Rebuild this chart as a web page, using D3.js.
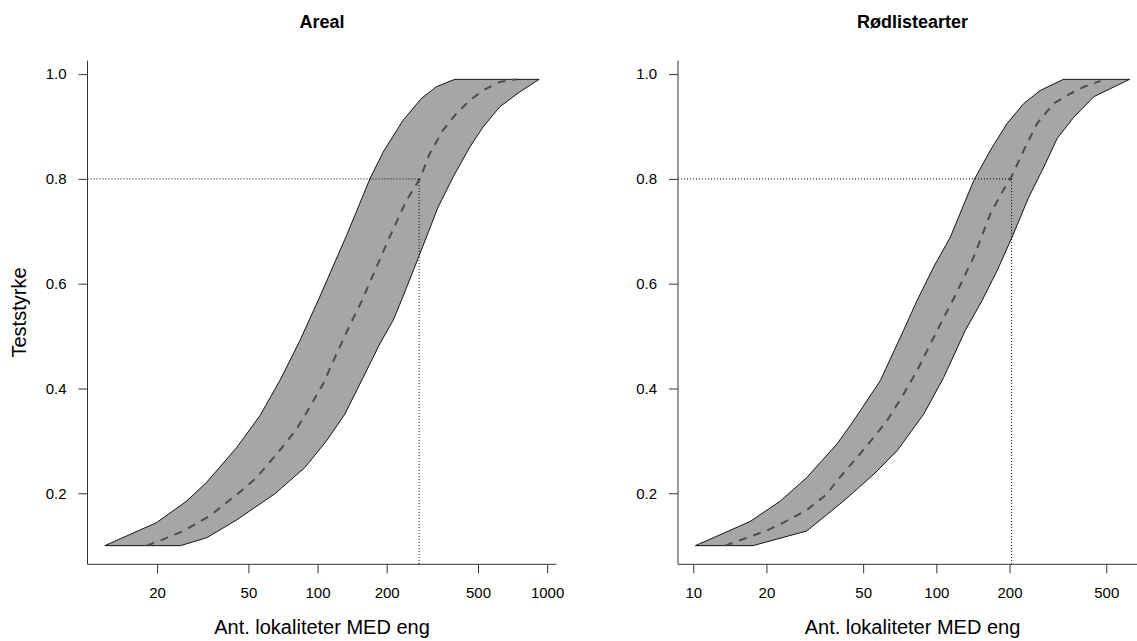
<!DOCTYPE html>
<html>
<head>
<meta charset="utf-8">
<script src="https://cdn.jsdelivr.net/npm/d3@7"></script>
<style>
  html, body { margin: 0; padding: 0; background: #fff; }
  svg { display: block; }
  text { font-family: "Liberation Sans", Arial, sans-serif; fill: #000; }
</style>
</head>
<body>
<svg id="chart" width="1137" height="641"></svg>
<script>
// ---- data ----
const panelTitles = ["Areal", "Rødlistearter"];
const xAxisTitle = "Ant. lokaliteter MED eng";
const yAxisTitle = "Teststyrke";
const yTicks = [0.2, 0.4, 0.6, 0.8, 1.0];
const xTicksAreal = [20, 50, 100, 200, 500, 1000];
const xTicksRodliste = [10, 20, 50, 100, 200, 500];
const targetPower = 0.8;

// Areal
const arealUpperN = [11.85, 19.9, 26.9, 32.9, 44.4, 56.1, 68.5, 83.7, 100.6, 133.8, 169, 193, 236, 284, 330, 396, 923];
const arealUpperP = [0.10, 0.144, 0.185, 0.221, 0.287, 0.348, 0.415, 0.491, 0.568, 0.692, 0.80, 0.851, 0.912, 0.954, 0.976, 0.99, 0.99];
const arealLowerN = [11.85, 25.3, 32.9, 44.4, 65.2, 88.0, 109.4, 131.5, 158, 186.7, 213.4, 232, 274, 335, 390, 461, 526, 622, 760, 923];
const arealLowerP = [0.10, 0.10, 0.115, 0.149, 0.199, 0.249, 0.300, 0.351, 0.421, 0.485, 0.530, 0.568, 0.648, 0.746, 0.804, 0.861, 0.899, 0.9375, 0.966, 0.99];
const arealMidN = [18.0, 21.3, 26.0, 34.0, 46.7, 54.2, 67.4, 81.0, 89.6, 105.8, 121, 138, 155.4, 203, 244, 279, 308, 352, 403, 461, 526, 622, 736];
const arealMidP = [0.10, 0.112, 0.128, 0.157, 0.205, 0.230, 0.278, 0.3226, 0.354, 0.409, 0.466, 0.52, 0.566, 0.6826, 0.759, 0.80, 0.848, 0.893, 0.925, 0.950, 0.969, 0.985, 0.99];
const arealTargetN = 277;

// Rødlistearter
const rodUpperN = [10.2, 17.1, 22.8, 29.3, 39.0, 45.6, 58.8, 73.3, 83.3, 97.5, 114.2, 142.5, 167, 195.6, 229, 268, 333, 624];
const rodUpperP = [0.10, 0.146, 0.185, 0.230, 0.294, 0.338, 0.415, 0.511, 0.568, 0.632, 0.689, 0.797, 0.855, 0.906, 0.944, 0.969, 0.99, 0.99];
const rodLowerN = [10.2, 17.6, 29.3, 41.5, 55.2, 68.9, 88.7, 107.2, 131.6, 154.3, 177.9, 205, 240, 277, 314, 368, 445, 624];
const rodLowerP = [0.10, 0.10, 0.128, 0.185, 0.236, 0.281, 0.351, 0.421, 0.511, 0.568, 0.625, 0.689, 0.765, 0.823, 0.877, 0.918, 0.957, 0.99];
const rodMidN = [13.5, 16.6, 20.1, 23.5, 29.3, 35.4, 39.0, 47.1, 55.2, 62.6, 73.3, 83.3, 94.5, 107.2, 119.8, 142.5, 167, 189.4, 201.8, 229, 260, 304, 357, 405, 474];
const rodMidP = [0.10, 0.115, 0.129, 0.144, 0.168, 0.198, 0.224, 0.268, 0.3065, 0.338, 0.389, 0.434, 0.485, 0.535, 0.578, 0.651, 0.734, 0.78, 0.80, 0.855, 0.906, 0.944, 0.963, 0.976, 0.987];
const rodTargetN = 204;

// ---- layout ----
const svg = d3.select("#chart");
const plotTop = 60.7, plotBottom = 564.3, plotWidth = 469;
const panelX0 = [87.5, 678];
const axisColor = "#333";

const zip = (a, b) => a.map((v, i) => [v, b[i]]);

const panels = [
  { title: panelTitles[0], upper: zip(arealUpperN, arealUpperP), lower: zip(arealLowerN, arealLowerP),
    mid: zip(arealMidN, arealMidP), ticks: xTicksAreal, target: arealTargetN, showY: true },
  { title: panelTitles[1], upper: zip(rodUpperN, rodUpperP), lower: zip(rodLowerN, rodLowerP),
    mid: zip(rodMidN, rodMidP), ticks: xTicksRodliste, target: rodTargetN, showY: false }
];

// y range as in R: data range [0.1, 0.99] extended by 4%
const yMin = 0.10, yMax = 0.99, yPad = 0.04 * (yMax - yMin);
const y = d3.scaleLinear().domain([yMin - yPad, yMax + yPad]).range([plotBottom, plotTop]);

panels.forEach((p, i) => {
  const x0 = panelX0[i];
  const allN = p.upper.concat(p.lower).map(d => d[0]);
  const lmin = Math.log10(d3.min(allN)), lmax = Math.log10(d3.max(allN));
  const lp = 0.04 * (lmax - lmin);
  const x = d3.scaleLog().domain([Math.pow(10, lmin - lp), Math.pow(10, lmax + lp)]).range([x0, x0 + plotWidth]);
  const g = svg.append("g");

  const line = d3.line().x(d => x(d[0])).y(d => y(d[1]));

  // band polygon
  const poly = p.upper.concat(p.lower.slice().reverse());
  g.append("path")
    .attr("d", line(poly) + "Z")
    .attr("fill", "#a6a6a6")
    .attr("stroke", "#000")
    .attr("stroke-width", 0.9)
    .attr("stroke-linejoin", "round");

  // dashed middle line
  g.append("path")
    .attr("d", line(p.mid))
    .attr("fill", "none")
    .attr("stroke", "#4d4d4d")
    .attr("stroke-width", 2)
    .attr("stroke-dasharray", "8,7");

  // dotted reference lines
  g.append("path")
    .attr("d", line([[x.invert(x0), targetPower], [p.target, targetPower]]))
    .attr("fill", "none").attr("stroke", "#000").attr("stroke-width", 1)
    .attr("stroke-dasharray", "1,2");
  g.append("path")
    .attr("d", line([[p.target, targetPower], [p.target, y.invert(plotBottom)]]))
    .attr("fill", "none").attr("stroke", "#000").attr("stroke-width", 1)
    .attr("stroke-dasharray", "1,2");

  // L-shaped box
  g.append("path")
    .attr("d", `M${x0},${plotTop}V${plotBottom}H${x0 + plotWidth}`)
    .attr("fill", "none").attr("stroke", axisColor).attr("stroke-width", 1);

  // x axis
  const xa = g.append("g").attr("transform", `translate(0,${plotBottom})`)
    .call(d3.axisBottom(x).tickValues(p.ticks).tickFormat(d3.format("d")).tickSize(9).tickPadding(14));
  xa.select(".domain").remove();
  xa.selectAll("line").attr("stroke", axisColor);
  xa.selectAll("text").style("font-size", "15px").attr("fill", "#000");

  // y axis
  const ya = g.append("g").attr("transform", `translate(${x0},0)`)
    .call(d3.axisLeft(y).tickValues(yTicks).tickFormat(d3.format(".1f")).tickSize(9).tickPadding(12));
  ya.select(".domain").remove();
  ya.selectAll("line").attr("stroke", axisColor);
  ya.selectAll("text").style("font-size", "15px").attr("fill", "#000");

  // titles
  const cx = x0 + plotWidth / 2;
  g.append("text").attr("x", cx).attr("y", 28).attr("text-anchor", "middle")
    .style("font-size", "18px").style("font-weight", "bold").text(p.title);
  g.append("text").attr("x", cx).attr("y", 634).attr("text-anchor", "middle")
    .style("font-size", "20px").text(xAxisTitle);
  if (p.showY) {
    g.append("text")
      .attr("transform", `translate(26,${(plotTop + plotBottom) / 2}) rotate(-90)`)
      .attr("text-anchor", "middle").style("font-size", "20px").text(yAxisTitle);
  }
});
</script>
</body>
</html>
